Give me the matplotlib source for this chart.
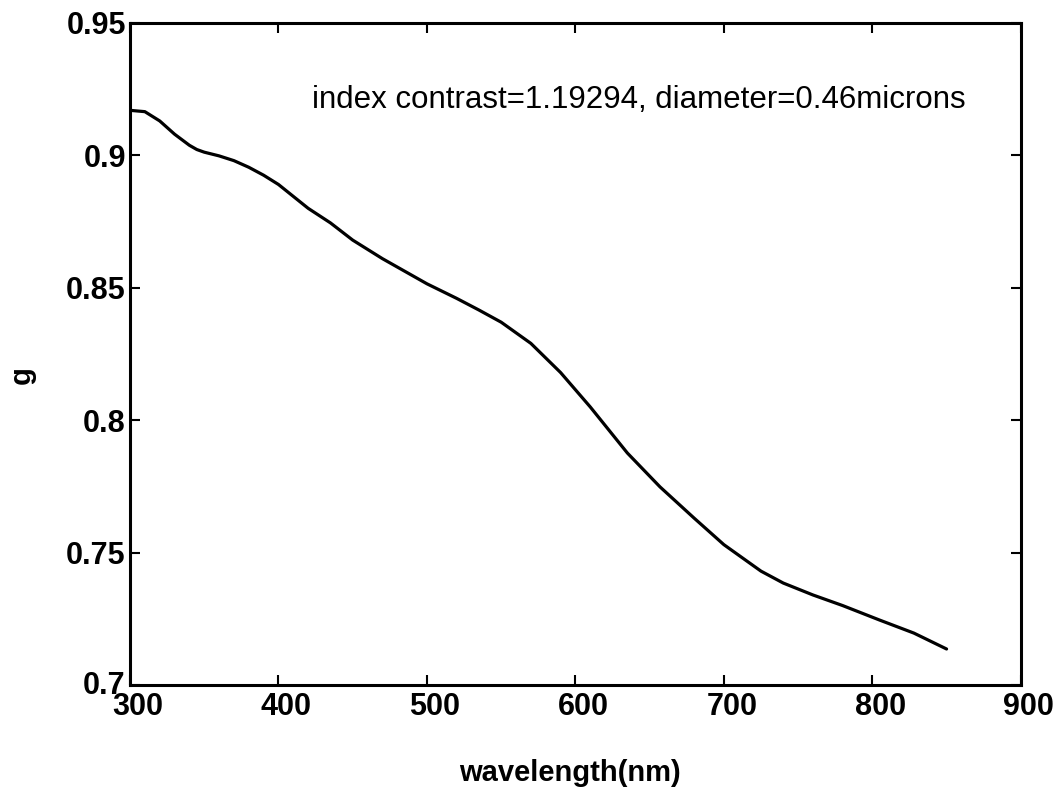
import matplotlib
matplotlib.use("Agg")
import matplotlib.pyplot as plt
import matplotlib.transforms as mtransforms

# asymmetry parameter g vs wavelength
wavelength = [300, 310, 320, 330, 340, 345, 350, 360, 370, 380, 390, 400,
              420, 435, 450, 470, 500, 520, 535, 550, 570, 590, 610, 635,
              657, 680, 700, 725, 740, 760, 780, 805, 828, 850]
g_values = [0.917, 0.9165, 0.913, 0.908, 0.9038, 0.9022, 0.9012, 0.8998,
            0.898, 0.8955, 0.8925, 0.889, 0.880, 0.8745, 0.868, 0.861,
            0.8515, 0.846, 0.8416, 0.837, 0.829, 0.818, 0.805, 0.7876,
            0.7748, 0.763, 0.753, 0.743, 0.7385, 0.734, 0.730, 0.7245,
            0.7196, 0.7136]
xticks = [300, 400, 500, 600, 700, 800, 900]
yticks = [0.7, 0.75, 0.8, 0.85, 0.9, 0.95]
ytick_labels = ["0.7", "0.75", "0.8", "0.85", "0.9", "0.95"]
note = "index contrast=1.19294, diameter=0.46microns"

plt.rcParams["font.family"] = ["Liberation Sans", "DejaVu Sans"]

fig = plt.figure(figsize=(10.63, 7.91), dpi=100)
ax = fig.add_axes([0.1223, 0.134, 0.838, 0.837])

ax.plot(wavelength, g_values, color="black", lw=2.3,
        solid_joinstyle="round", solid_capstyle="round")
ax.set_xlim(300, 900)
ax.set_ylim(0.7, 0.95)
ax.set_xticks(xticks)
ax.set_yticks(yticks)
ax.set_yticklabels(ytick_labels)
ax.tick_params(direction="in", length=7, width=1.5, top=True, right=True,
               labelsize=22, pad=5)
ax.tick_params(axis="y", pad=3)
for lbl in ax.get_xticklabels() + ax.get_yticklabels():
    lbl.set_fontweight("bold")
for s in ax.spines.values():
    s.set_linewidth(2.2)

# x tick labels sit a little right of their ticks in the reference
shift = mtransforms.ScaledTranslation(8 / 100, 0, fig.dpi_scale_trans)
for lbl in ax.get_xticklabels():
    lbl.set_transform(lbl.get_transform() + shift)
# "0.7" sits slightly high, next to the corner
up = mtransforms.ScaledTranslation(0, 3 / 100, fig.dpi_scale_trans)
ylbls = ax.get_yticklabels()
ylbls[0].set_transform(ylbls[0].get_transform() + up)

ax.text(0.204, 0.884, note, transform=ax.transAxes, fontsize=22.5,
        va="center")
# axis titles placed in figure coords to match the reference spacing
fig.text(570 / 1063, 1 - 773 / 791, "wavelength(nm)", fontsize=21,
         fontweight="bold", ha="center", va="center")
fig.text(22 / 1063, 1 - 375 / 791, "g", fontsize=21, fontweight="bold",
         ha="center", va="center", rotation=90)

fig.savefig("out.png", dpi=100)
